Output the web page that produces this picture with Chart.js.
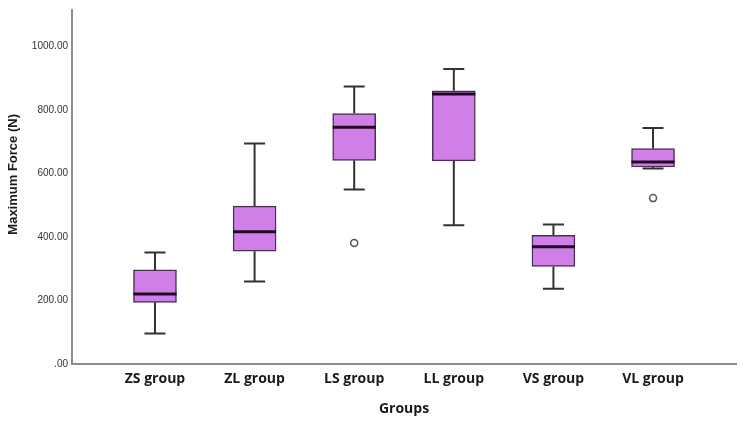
<!DOCTYPE html>
<html lang="en">
<head>
    <meta charset="UTF-8">
    <title>Maximum Force by Group</title>
    <script src="https://cdn.jsdelivr.net/npm/chart.js"></script>
    <style>
        body {
            margin: 0;
            padding: 0;
            background: #ffffff;
        }

        /* Chart box, same size as the window */
        #chart-wrap {
            width: 744px;
            height: 422px;
            position: relative;
        }
    </style>
</head>
<body>

<div id="chart-wrap">
    <canvas id="boxChart"></canvas>
</div>

<script>
    // Data (five-number summaries per group)
    const categories = ["ZS group", "ZL group", "LS group", "LL group", "VS group", "VL group"];
    const whiskerLow = [96, 260, 549, 437, 237, 615];
    const q1 = [194, 355, 641, 639, 307, 620];
    const medians = [220, 416, 745, 850, 369, 636];
    const q3 = [296, 497, 788, 860, 405, 678];
    const whiskerHigh = [351, 694, 873, 928, 439, 743];
    const outlierGroup = [2, 5];
    const outlierValue = [381, 522];
    const yTicks = [0, 200, 400, 600, 800, 1000];

    const boxColor = "#d17fe8";
    const edgeColor = "#4a3052";

    // Whiskers, caps and medians drawn on top of the bar boxes
    const boxParts = {
        id: "boxParts",
        beforeDatasetsDraw(chart) {
            const ctx = chart.ctx;
            const xs = chart.scales.x;
            const ys = chart.scales.y;
            ctx.save();
            ctx.strokeStyle = "#333333";
            ctx.lineWidth = 2;
            categories.forEach((c, i) => {
                const x = xs.getPixelForValue(i);
                ctx.beginPath();
                ctx.moveTo(x, ys.getPixelForValue(q3[i]));
                ctx.lineTo(x, ys.getPixelForValue(whiskerHigh[i]));
                ctx.moveTo(x, ys.getPixelForValue(q1[i]));
                ctx.lineTo(x, ys.getPixelForValue(whiskerLow[i]));
                ctx.stroke();
            });
            ctx.restore();
        },
        afterDatasetsDraw(chart) {
            const ctx = chart.ctx;
            const xs = chart.scales.x;
            const ys = chart.scales.y;
            ctx.save();
            categories.forEach((c, i) => {
                const x = xs.getPixelForValue(i);
                // caps
                ctx.strokeStyle = "#333333";
                ctx.lineWidth = 2;
                ctx.beginPath();
                [whiskerHigh[i], whiskerLow[i]].forEach(v => {
                    const y = ys.getPixelForValue(v);
                    ctx.moveTo(x - 10.5, y);
                    ctx.lineTo(x + 10.5, y);
                });
                ctx.stroke();
                // median
                const my = ys.getPixelForValue(medians[i]);
                ctx.strokeStyle = "#1f0a26";
                ctx.lineWidth = 3;
                ctx.beginPath();
                ctx.moveTo(x - 21.5, my);
                ctx.lineTo(x + 21.5, my);
                ctx.stroke();
            });
            ctx.restore();
        }
    };

    const ctx = document.getElementById("boxChart").getContext("2d");

    new Chart(ctx, {
        type: "bar",
        data: {
            datasets: [
                {
                    label: "Boxes",
                    data: categories.map((c, i) => ({ x: i, y: [q1[i], q3[i]] })),
                    backgroundColor: boxColor,
                    borderColor: edgeColor,
                    borderWidth: 1.5,
                    borderSkipped: false,
                    barThickness: 43,
                    order: 2
                },
                {
                    type: "scatter",
                    label: "Outliers",
                    data: outlierGroup.map((g, k) => ({ x: g, y: outlierValue[k] })),
                    pointStyle: "circle",
                    pointRadius: 3.5,
                    pointBackgroundColor: "#ffffff",
                    pointBorderColor: "#555555",
                    pointBorderWidth: 1.5,
                    order: 1
                }
            ]
        },
        options: {
            responsive: true,
            maintainAspectRatio: false,
            animation: false,
            layout: {
                padding: { top: 1, right: 8, left: 0, bottom: 0 }
            },
            plugins: {
                legend: { display: false },
                tooltip: { enabled: false }
            },
            scales: {
                x: {
                    type: "linear",
                    offset: false,
                    min: -0.833,
                    max: 5.833,
                    grid: { display: false, drawTicks: false },
                    border: { display: true, color: "#8c8c8c", width: 2 },
                    afterBuildTicks: scale => {
                        scale.ticks = categories.map((c, i) => ({ value: i }));
                    },
                    afterFit: scale => { scale.height = 58; },
                    ticks: {
                        autoSkip: false,
                        maxRotation: 0,
                        padding: 7,
                        color: "#1a1a1a",
                        font: { family: "'Open Sans'", size: 14, weight: "bold" },
                        callback: value => categories[value]
                    },
                    title: {
                        display: true,
                        text: "Groups",
                        color: "#1a1a1a",
                        font: { family: "'Open Sans'", size: 14, weight: "bold" },
                        padding: { top: 0, bottom: 5 }
                    }
                },
                y: {
                    min: 0,
                    max: 1114,
                    grid: { display: false, drawTicks: false },
                    border: { display: true, color: "#8c8c8c", width: 2 },
                    afterBuildTicks: scale => {
                        scale.ticks = yTicks.map(v => ({ value: v }));
                    },
                    afterFit: scale => { scale.width = 72; },
                    ticks: {
                        padding: 4,
                        color: "#333333",
                        font: { family: "'Liberation Sans'", size: 10 },
                        callback: value => value === 0 ? ".00" : value.toFixed(2)
                    },
                    title: {
                        display: true,
                        text: "       Maximum Force (N)",
                        color: "#1a1a1a",
                        font: { family: "'Liberation Sans'", size: 13, weight: "bold" },
                        padding: { top: 6, bottom: 4 }
                    }
                }
            }
        },
        plugins: [boxParts]
    });
</script>

</body>
</html>
